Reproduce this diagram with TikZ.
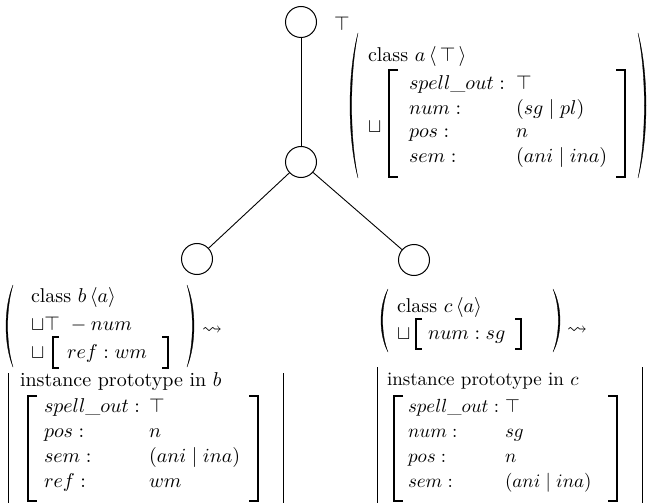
\documentclass[tikz,border=0pt]{standalone}
\usepackage{amsmath}
\usepackage{amssymb}
\newcommand{\myLParen}[4]{%
 \filldraw[line width=0.3pt] (#1,#2) .. controls ({#1-1.333*#4},{#2+0.28*(#3-#2)}) and ({#1-1.333*#4},{#3-0.28*(#3-#2)}) .. (#1,#3) .. controls ({#1-1.333*#4+2.2},{#3-0.28*(#3-#2)}) and ({#1-1.333*#4+2.2},{#2+0.28*(#3-#2)}) .. (#1,#2) -- cycle;}
\newcommand{\myRParen}[4]{%
 \filldraw[line width=0.3pt] (#1,#2) .. controls ({#1+1.333*#4},{#2+0.28*(#3-#2)}) and ({#1+1.333*#4},{#3-0.28*(#3-#2)}) .. (#1,#3) .. controls ({#1+1.333*#4-2.2},{#3-0.28*(#3-#2)}) and ({#1+1.333*#4-2.2},{#2+0.28*(#3-#2)}) .. (#1,#2) -- cycle;}
\newcommand{\myLBrack}[4]{\draw[brk] ({#1+#4},#2) -- (#1,#2) -- (#1,#3) -- ({#1+#4},#3);}
\newcommand{\myRBrack}[4]{\draw[brk] ({#1-#4},#2) -- (#1,#2) -- (#1,#3) -- ({#1-#4},#3);}
\begin{document}
\begin{tikzpicture}[x=1pt,y=-1pt,
  txt/.style={inner sep=0pt, outer sep=0pt, anchor=base west, font=\fontsize{10}{12}\selectfont, scale=2.0},
  stxt/.style={inner sep=0pt, outer sep=0pt, anchor=base west, font=\fontsize{10}{12}\selectfont, scale=1.9},
  circ/.style={circle, draw, line width=1pt, minimum size=31pt, inner sep=0pt},
  edge/.style={line width=0.9pt},
  brk/.style={line width=1.1pt},
  vbar/.style={line width=1pt}]
\useasboundingbox (0,0) rectangle (649,503);
% tree
\node[circ] (top) at (301,22) {};
\node[txt] (toplbl) at (334,31) {$\top$};
\node[circ] (mid) at (301,162) {};
\node[circ] (lft) at (197,259) {};
\node[circ] (rgt) at (414,260) {};
\draw[edge] (top) -- (mid);
\draw[edge] (mid) -- (lft);
\draw[edge] (mid) -- (rgt);
% class a
\myLParen{358}{33}{178}{8}
\myRParen{638}{33}{178}{8}
\node[txt] (acls) at (368,62) {class $a\,\langle\,\top\,\rangle$};
\node[txt] (acup) at (368,133) {$\sqcup$};
\myLBrack{389}{70}{177}{9}
\node[txt] (al1) at (409,90) {$spell\_out :$};
\node[txt] (av1) at (516,90) {$\top$};
\node[txt] (al2) at (409,114) {$num :$};
\node[txt] (av2) at (516,114) {$(sg \mid pl)$};
\node[txt] (al3) at (409,138) {$pos :$};
\node[txt] (av3) at (516,138) {$n$};
\node[txt] (al4) at (409,162) {$sem :$};
\node[txt] (av4) at (516,162) {$(ani \mid ina)$};
\myRBrack{625}{70}{177}{9}
% class b
\myLParen{13}{285}{367}{7}
\myRParen{187}{285}{367}{7}
\node[txt] (bcls) at (31,302) {class $b\,\langle a\rangle$};
\node[txt] (bl2) at (31,330) {$\sqcup\top\ - num$};
\node[txt] (bl3) at (31,358) {$\sqcup$};
\myLBrack{53}{337}{368}{6}
\node[txt] (bl3v) at (67,358) {$ref : wm$};
\myRBrack{168}{337}{368}{6}
\node[txt] (blead) at (202,334) {$\leadsto$};
% instance b
\draw[vbar] (8,373) -- (8,503);
\draw[vbar] (283,373) -- (283,503);
\node[txt] (binst) at (20,386) {instance prototype in $b$};
\myLBrack{28}{396}{501}{9}
\node[txt] (bil1) at (44,412) {$spell\_out :$};
\node[txt] (biv1) at (149,412) {$\top$};
\node[txt] (bil2) at (44,437) {$pos :$};
\node[txt] (biv2) at (149,437) {$n$};
\node[txt] (bil3) at (44,462) {$sem :$};
\node[txt] (biv3) at (149,462) {$(ani \mid ina)$};
\node[txt] (bil4) at (44,487) {$ref :$};
\node[txt] (biv4) at (149,487) {$wm$};
\myRBrack{258}{396}{501}{9}
% class c
\myLParen{388}{289}{352}{7}
\myRParen{553}{289}{352}{7}
\node[txt] (ccls) at (397,312) {class $c\,\langle a\rangle$};
\node[txt] (cl2) at (397,339) {$\sqcup$};
\myLBrack{416}{319}{349}{6}
\node[txt] (cl2v) at (428,339) {$num : sg$};
\myRBrack{521}{319}{349}{6}
\node[txt] (clead) at (567,334) {$\leadsto$};
% instance c
\draw[vbar] (377,367) -- (377,503);
\draw[vbar] (642,367) -- (642,503);
\node[stxt] (cinst) at (387,385) {instance prototype in $c$};
\myLBrack{394}{396}{501}{9}
\node[stxt] (cil1) at (408,412) {$spell\_out :$};
\node[stxt] (civ1) at (505,412) {$\top$};
\node[stxt] (cil2) at (408,437) {$num :$};
\node[stxt] (civ2) at (505,437) {$sg$};
\node[stxt] (cil3) at (408,462) {$pos :$};
\node[stxt] (civ3) at (505,462) {$n$};
\node[stxt] (cil4) at (408,487) {$sem :$};
\node[stxt] (civ4) at (505,487) {$(ani \mid ina)$};
\myRBrack{617}{396}{501}{9}
\end{tikzpicture}
\end{document}
